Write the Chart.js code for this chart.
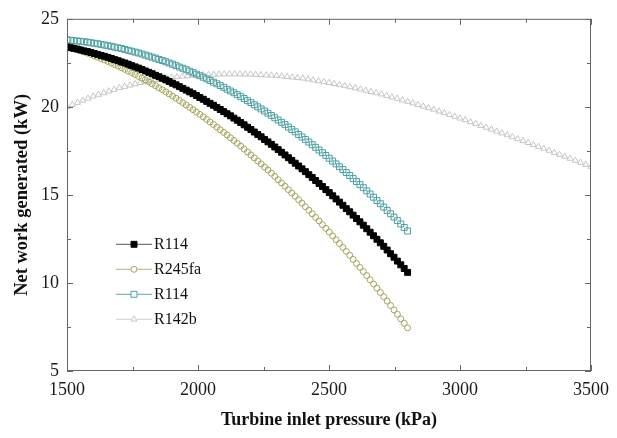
<!DOCTYPE html>
<html>
<head>
<meta charset="utf-8">
<script src="https://cdn.jsdelivr.net/npm/chart.js@4.4.1/dist/chart.umd.min.js"></script>
<style>
  html, body { margin: 0; padding: 0; background: #fff; }
  canvas { display: block; }
</style>
</head>
<body>
<canvas id="chart" width="617" height="438"></canvas>
<script>
// turbine inlet pressure (kPa) for the three curves that stop at 2800
const pressureShort = [1500,1513,1526,1539,1552,1565,1578,1591,1604,1617,1630,1643,1656,1669,1682,1695,1708,1721,1734,1747,
  1760,1773,1786,1799,1812,1825,1838,1851,1864,1877,1890,1903,1916,1929,1942,1955,1968,1981,1994,2007,
  2020,2033,2046,2059,2072,2085,2098,2111,2124,2137,2150,2163,2176,2189,2202,2215,2228,2241,2254,2267,
  2280,2293,2306,2319,2332,2345,2358,2371,2384,2397,2410,2423,2436,2449,2462,2475,2488,2501,2514,2527,
  2540,2553,2566,2579,2592,2605,2618,2631,2644,2657,2670,2683,2696,2709,2722,2735,2748,2761,2774,2787,2800];

// pressure for R142b, runs to 3500
const pressureLong = [1500,1520,1540,1560,1580,1600,1620,1640,1660,1680,1700,1720,1740,1760,1780,1800,1820,1840,1860,1880,
  1900,1920,1940,1960,1980,2000,2020,2040,2060,2080,2100,2120,2140,2160,2180,2200,2220,2240,2260,2280,
  2300,2320,2340,2360,2380,2400,2420,2440,2460,2480,2500,2520,2540,2560,2580,2600,2620,2640,2660,2680,
  2700,2720,2740,2760,2780,2800,2820,2840,2860,2880,2900,2920,2940,2960,2980,3000,3020,3040,3060,3080,
  3100,3120,3140,3160,3180,3200,3220,3240,3260,3280,3300,3320,3340,3360,3380,3400,3420,3440,3460,3480,3500];

// net work (kW)
const workR114a = [23.40,23.36,23.32,23.28,23.23,23.18,23.14,23.09,23.03,22.98,22.92,22.87,22.81,22.75,22.68,22.62,22.55,22.49,22.42,22.34,
  22.27,22.20,22.12,22.04,21.96,21.88,21.79,21.71,21.62,21.53,21.44,21.34,21.25,21.15,21.05,20.95,20.85,20.75,20.64,20.53,
  20.43,20.31,20.20,20.09,19.97,19.85,19.73,19.61,19.49,19.36,19.24,19.11,18.98,18.84,18.71,18.57,18.43,18.30,18.15,18.01,
  17.87,17.72,17.57,17.42,17.27,17.11,16.96,16.80,16.64,16.48,16.32,16.15,15.99,15.82,15.65,15.48,15.30,15.13,14.95,14.77,
  14.59,14.41,14.22,14.04,13.85,13.66,13.47,13.28,13.08,12.88,12.68,12.48,12.28,12.08,11.87,11.66,11.46,11.24,11.03,10.82,10.60];

const workR245fa = [23.45,23.39,23.32,23.26,23.19,23.12,23.05,22.98,22.90,22.82,22.74,22.66,22.58,22.49,22.40,22.31,22.22,22.13,22.03,21.94,
  21.84,21.73,21.63,21.53,21.42,21.31,21.20,21.08,20.97,20.85,20.73,20.61,20.49,20.36,20.23,20.10,19.97,19.84,19.70,19.57,
  19.43,19.29,19.14,19.00,18.85,18.70,18.55,18.40,18.24,18.09,17.93,17.77,17.60,17.44,17.27,17.10,16.93,16.76,16.58,16.41,
  16.23,16.05,15.86,15.68,15.49,15.30,15.11,14.92,14.73,14.53,14.33,14.13,13.93,13.72,13.52,13.31,13.10,12.89,12.67,12.45,
  12.24,12.02,11.79,11.57,11.34,11.11,10.88,10.65,10.42,10.18,9.94,9.70,9.46,9.22,8.97,8.72,8.47,8.22,7.96,7.71,7.45];

const workR114b = [23.80,23.78,23.76,23.74,23.72,23.70,23.67,23.64,23.61,23.58,23.55,23.51,23.47,23.44,23.39,23.35,23.31,23.26,23.21,23.16,
  23.11,23.06,23.00,22.94,22.88,22.82,22.76,22.69,22.63,22.56,22.49,22.42,22.34,22.26,22.19,22.11,22.03,21.94,21.86,21.77,
  21.68,21.59,21.50,21.40,21.31,21.21,21.11,21.00,20.90,20.80,20.69,20.58,20.47,20.35,20.24,20.12,20.00,19.88,19.76,19.64,
  19.51,19.38,19.25,19.12,18.99,18.85,18.71,18.58,18.43,18.29,18.15,18.00,17.85,17.70,17.55,17.40,17.24,17.08,16.92,16.76,
  16.60,16.44,16.27,16.10,15.93,15.76,15.58,15.41,15.23,15.05,14.87,14.68,14.50,14.31,14.12,13.93,13.74,13.54,13.35,13.15,12.95];

const workR142b = [20.00,20.12,20.24,20.36,20.48,20.60,20.70,20.79,20.89,20.98,21.08,21.15,21.22,21.30,21.37,21.44,21.49,21.54,21.58,21.63,
  21.68,21.70,21.73,21.75,21.78,21.80,21.81,21.82,21.84,21.85,21.86,21.86,21.86,21.86,21.85,21.85,21.83,21.82,21.80,21.79,
  21.77,21.74,21.71,21.68,21.65,21.62,21.57,21.52,21.47,21.42,21.37,21.31,21.25,21.19,21.13,21.07,21.00,20.93,20.86,20.79,
  20.72,20.64,20.55,20.47,20.38,20.30,20.21,20.12,20.03,19.94,19.85,19.75,19.65,19.55,19.45,19.35,19.25,19.14,19.04,18.93,
  18.83,18.72,18.61,18.51,18.40,18.29,18.18,18.07,17.96,17.85,17.74,17.63,17.52,17.40,17.29,17.18,17.07,16.95,16.84,16.72,16.61];

const seriesLabels = ["R114", "R245fa", "R114", "R142b"];

const xMajor = [1500, 2000, 2500, 3000, 3500];
const xMinor = [1750, 2250, 2750, 3250];
const yMajor = [5, 10, 15, 20, 25];
const yMinor = [7.5, 12.5, 17.5, 22.5];

const serif = "'Liberation Serif', 'Times New Roman', serif";

function pts(xs, ys) {
  return xs.map((x, i) => ({ x: x, y: ys[i] }));
}

// frame on all four sides with inward ticks
const frameTicks = {
  id: "frameTicks",
  afterDatasetsDraw(chart) {
    const { ctx, chartArea: a, scales } = chart;
    const xs = scales.x, ys = scales.y;
    ctx.save();
    ctx.strokeStyle = "#666";
    ctx.lineWidth = 1;
    ctx.strokeRect(a.left + 0.5, a.top + 0.5, a.right - a.left - 1, a.bottom - a.top - 1);
    ctx.beginPath();
    const xt = (v, len) => {
      const px = Math.round(xs.getPixelForValue(v)) + 0.5;
      ctx.moveTo(px, a.bottom); ctx.lineTo(px, a.bottom - len);
      ctx.moveTo(px, a.top); ctx.lineTo(px, a.top + len);
    };
    const yt = (v, len) => {
      const py = Math.round(ys.getPixelForValue(v)) + 0.5;
      ctx.moveTo(a.left, py); ctx.lineTo(a.left + len, py);
      ctx.moveTo(a.right, py); ctx.lineTo(a.right - len, py);
    };
    xMajor.forEach(v => xt(v, 6));
    xMinor.forEach(v => xt(v, 4));
    yMajor.forEach(v => yt(v, 6));
    yMinor.forEach(v => yt(v, 4));
    ctx.stroke();
    ctx.restore();
  }
};

// legend drawn as line + marker + label, like the original
const lineLegend = {
  id: "lineLegend",
  afterDraw(chart) {
    const { ctx, chartArea: a } = chart;
    const x0 = a.left + 49;
    const y0 = a.top + 225;
    ctx.save();
    chart.data.datasets.forEach((ds, i) => {
      const y = y0 + i * 25;
      ctx.strokeStyle = ds.legendLine;
      ctx.lineWidth = 1;
      ctx.beginPath();
      ctx.moveTo(x0, y + 0.5);
      ctx.lineTo(x0 + 36, y + 0.5);
      ctx.stroke();
      ctx.fillStyle = ds.legendFill;
      ctx.strokeStyle = ds.borderColor;
      ctx.lineWidth = 1;
      Chart.helpers.drawPoint(ctx, {
        pointStyle: ds.pointStyle,
        radius: ds.pointRadius,
        rotation: 0,
        borderWidth: 1
      }, x0 + 18, y + 0.5);
      ctx.fillStyle = "#111";
      ctx.font = "16px " + serif;
      ctx.textBaseline = "middle";
      ctx.fillText(ds.label, x0 + 38, y + 1);
    });
    ctx.restore();
  }
};

new Chart(document.getElementById("chart"), {
  type: "line",
  data: {
    datasets: [
      {
        label: seriesLabels[0],
        data: pts(pressureShort, workR114a),
        showLine: false,
        pointStyle: "rect",
        pointRadius: 4.2,
        pointBorderWidth: 1,
        borderColor: "#000",
        backgroundColor: "#000",
        legendLine: "#555",
        legendFill: "#000",
        clip: 0
      },
      {
        label: seriesLabels[1],
        data: pts(pressureShort, workR245fa),
        showLine: false,
        pointStyle: "circle",
        pointRadius: 3,
        pointBorderWidth: 1,
        borderColor: "#a8a45c",
        backgroundColor: "rgba(0,0,0,0)",
        legendLine: "#b3b07c",
        legendFill: "#fff",
        clip: 0
      },
      {
        label: seriesLabels[2],
        data: pts(pressureShort, workR114b),
        showLine: false,
        pointStyle: "rect",
        pointRadius: 4.2,
        pointBorderWidth: 1,
        borderColor: "#4c9fa2",
        backgroundColor: "rgba(0,0,0,0)",
        legendLine: "#5aaaac",
        legendFill: "#fff",
        clip: 0
      },
      {
        label: seriesLabels[3],
        data: pts(pressureLong, workR142b),
        showLine: false,
        pointStyle: "triangle",
        pointRadius: 3.5,
        pointBorderWidth: 1,
        borderColor: "#c6c6c6",
        backgroundColor: "rgba(0,0,0,0)",
        legendLine: "#d0d0d0",
        legendFill: "#fff",
        clip: 0
      }
    ]
  },
  options: {
    responsive: false,
    animation: false,
    devicePixelRatio: 1,
    layout: { padding: { top: 18, right: 20, left: 0, bottom: 0 } },
    plugins: {
      legend: { display: false },
      tooltip: { enabled: false }
    },
    scales: {
      x: {
        type: "linear",
        min: 1500,
        max: 3500,
        afterBuildTicks: s => { s.ticks = xMajor.map(v => ({ value: v })); },
        afterFit: s => { s.height = 67; },
        grid: { display: false, drawTicks: false },
        border: { display: false },
        ticks: {
          padding: 8,
          color: "#1a1a1a",
          font: { family: serif, size: 18 },
          maxRotation: 0,
          callback: v => String(v)
        },
        title: {
          display: true,
          text: "Turbine inlet pressure (kPa)",
          color: "#111",
          font: { family: serif, size: 18, weight: "bold" },
          padding: { top: 0, bottom: 7 }
        }
      },
      y: {
        type: "linear",
        min: 5,
        max: 25,
        afterBuildTicks: s => { s.ticks = yMajor.map(v => ({ value: v })); },
        afterFit: s => { s.width = 67; },
        grid: { display: false, drawTicks: false },
        border: { display: false },
        ticks: {
          padding: 8,
          color: "#1a1a1a",
          font: { family: serif, size: 18 },
          callback: v => String(v)
        },
        title: {
          display: true,
          text: "Net work generated (kW)",
          color: "#111",
          font: { family: serif, size: 18.5, weight: "bold" },
          padding: { top: 11, bottom: 0 }
        }
      }
    }
  },
  plugins: [frameTicks, lineLegend]
});
</script>
</body>
</html>
